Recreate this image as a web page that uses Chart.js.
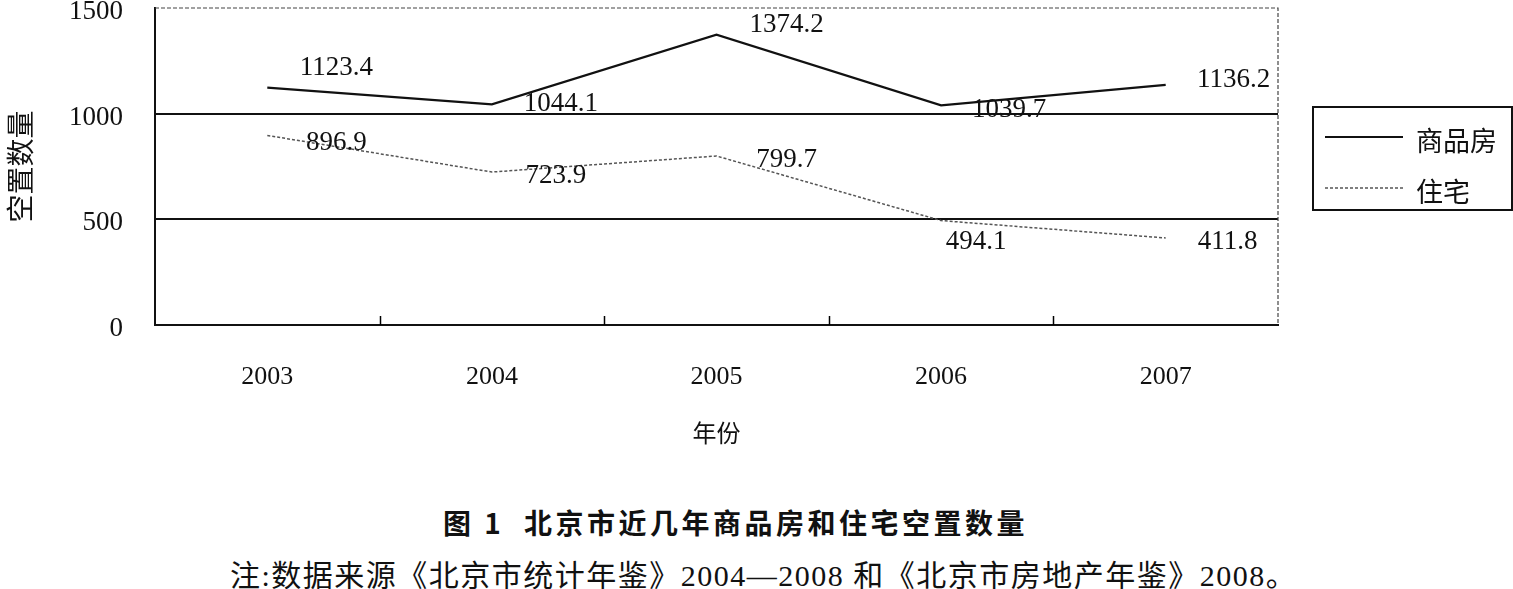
<!DOCTYPE html>
<html>
<head>
<meta charset="utf-8">
<script src="https://cdn.jsdelivr.net/npm/chart.js@4.4.1/dist/chart.umd.min.js"></script>
<style>
  body { margin: 0; background: #fff; }
  #wrap { position: relative; width: 1513px; height: 589px; overflow: hidden; }
  #vacancyChart { position: absolute; left: 0; top: 0; }
  .caption {
    position: absolute; left: 443px; top: 502px;
    font: bold 28px "Noto Sans CJK SC", sans-serif; letter-spacing: 3.5px;
    color: #111; white-space: nowrap;
  }
  .note {
    position: absolute; left: 230px; top: 551px;
    font: 30px "Liberation Serif", "Noto Sans CJK SC", serif; letter-spacing: 1.5px;
    color: #111; white-space: nowrap;
  }
</style>
</head>
<body>
<div id="wrap">
  <canvas id="vacancyChart" width="1513" height="470"></canvas>
  <div class="caption">图 1&nbsp;&nbsp;北京市近几年商品房和住宅空置数量</div>
  <div class="note">注:数据来源《北京市统计年鉴》2004—2008 和《北京市房地产年鉴》2008。</div>
</div>
<script>
// ===== DATA =====
const years = ["2003", "2004", "2005", "2006", "2007"];
const commercialHousing = [1123.4, 1044.1, 1374.2, 1039.7, 1136.2]; // 商品房
const residential = [896.9, 723.9, 799.7, 494.1, 411.8];           // 住宅
const yTicks = [0, 500, 1000, 1500];

// label placement next to each point [dx, dy]
const commercialLabelOffset = [[69, -20], [69, 0], [70, -10], [68, 5], [68, -5]];
const residentialLabelOffset = [[69, 7], [64, 4], [70, 4], [35, 21], [62, 4]];

const numFont = '"Liberation Serif", "Times New Roman", serif';
const cjkFont = '"Noto Sans CJK SC", sans-serif';

// ===== FRAME, TICKS, VALUE LABELS, LEGEND =====
const framePlugin = {
  id: "frame",
  afterDraw(chart) {
    const { ctx, chartArea: { left, right, top, bottom } } = chart;
    const xScale = chart.scales.x;
    ctx.save();

    // dashed top and right border
    ctx.strokeStyle = "#444";
    ctx.lineWidth = 1.2;
    ctx.setLineDash([4, 2]);
    ctx.beginPath();
    ctx.moveTo(left, top);
    ctx.lineTo(right, top);
    ctx.lineTo(right, bottom);
    ctx.stroke();

    // inward tick marks between categories
    ctx.setLineDash([]);
    ctx.strokeStyle = "#000";
    ctx.lineWidth = 1.5;
    for (let i = 1; i < years.length; i++) {
      const px = Math.round(xScale.getPixelForValue(i - 0.5)) + 0.5;
      ctx.beginPath();
      ctx.moveTo(px, bottom);
      ctx.lineTo(px, bottom - 9);
      ctx.stroke();
    }

    // value labels
    ctx.fillStyle = "#111";
    ctx.font = `27px ${numFont}`;
    ctx.textAlign = "center";
    ctx.textBaseline = "middle";
    const offsets = [commercialLabelOffset, residentialLabelOffset];
    chart.data.datasets.forEach((ds, di) => {
      chart.getDatasetMeta(di).data.forEach((pt, i) => {
        const [dx, dy] = offsets[di][i];
        ctx.fillText(ds.data[i].toFixed(1), pt.x + dx, pt.y + dy);
      });
    });

    // legend box
    ctx.lineWidth = 2;
    ctx.strokeStyle = "#111";
    ctx.strokeRect(1313, 107, 199, 103);
    chart.data.datasets.forEach((ds, di) => {
      const y = di === 0 ? 137 : 188;
      ctx.strokeStyle = ds.borderColor;
      ctx.lineWidth = ds.borderWidth;
      ctx.setLineDash(ds.borderDash || []);
      ctx.beginPath();
      ctx.moveTo(1325, y);
      ctx.lineTo(1403, y);
      ctx.stroke();
      ctx.setLineDash([]);
      ctx.fillStyle = "#111";
      ctx.font = `27px ${cjkFont}`;
      ctx.textAlign = "left";
      ctx.fillText(ds.label, 1416, y + 4);
    });

    ctx.restore();
  }
};

const ctx = document.getElementById("vacancyChart");

new Chart(ctx, {
  type: "line",
  data: {
    labels: years,
    datasets: [
      {
        label: "商品房",
        data: commercialHousing,
        borderColor: "#111",
        borderWidth: 2.2,
        pointRadius: 0,
        tension: 0,
      },
      {
        label: "住宅",
        data: residential,
        borderColor: "#555",
        borderWidth: 1.5,
        borderDash: [3, 2],
        pointRadius: 0,
        tension: 0,
      },
    ],
  },
  options: {
    responsive: false,
    animation: false,
    layout: { padding: { left: 0, top: 8, right: 235, bottom: 15 } },
    plugins: {
      legend: { display: false },
      tooltip: { enabled: false },
    },
    scales: {
      x: {
        type: "category",
        offset: true,
        grid: { display: false, drawTicks: false },
        border: { display: true, color: "#111", width: 2 },
        ticks: { color: "#111", font: { family: numFont, size: 26 }, padding: 37, maxRotation: 0 },
        title: {
          display: true,
          text: "年份",
          color: "#111",
          font: { family: cjkFont, size: 24 },
          padding: { top: 0, bottom: 8 },
        },
        afterFit(scale) {
          scale.height = 130;
          scale.paddingLeft = 0;
          scale.paddingRight = 0;
        },
      },
      y: {
        min: 0,
        max: 1500,
        afterBuildTicks(scale) { scale.ticks = yTicks.map(v => ({ value: v })); },
        grid: {
          drawTicks: false,
          lineWidth: 2,
          color: c => (c.tick && (c.tick.value === 500 || c.tick.value === 1000)) ? "#111" : "rgba(0,0,0,0)",
        },
        border: { display: true, color: "#111", width: 2 },
        ticks: {
          color: "#111",
          font: { family: numFont, size: 27 },
          padding: 32,
          labelOffset: 4,
          callback: v => String(v),
        },
        title: {
          display: true,
          text: "空置数量",
          color: "#111",
          font: { family: cjkFont, size: 28 },
          padding: { top: 4, bottom: 0 },
        },
        afterFit(scale) {
          scale.width = 155;
          scale.paddingTop = 0;
          scale.paddingBottom = 0;
        },
      },
    },
  },
  plugins: [framePlugin],
});
</script>
</body>
</html>
